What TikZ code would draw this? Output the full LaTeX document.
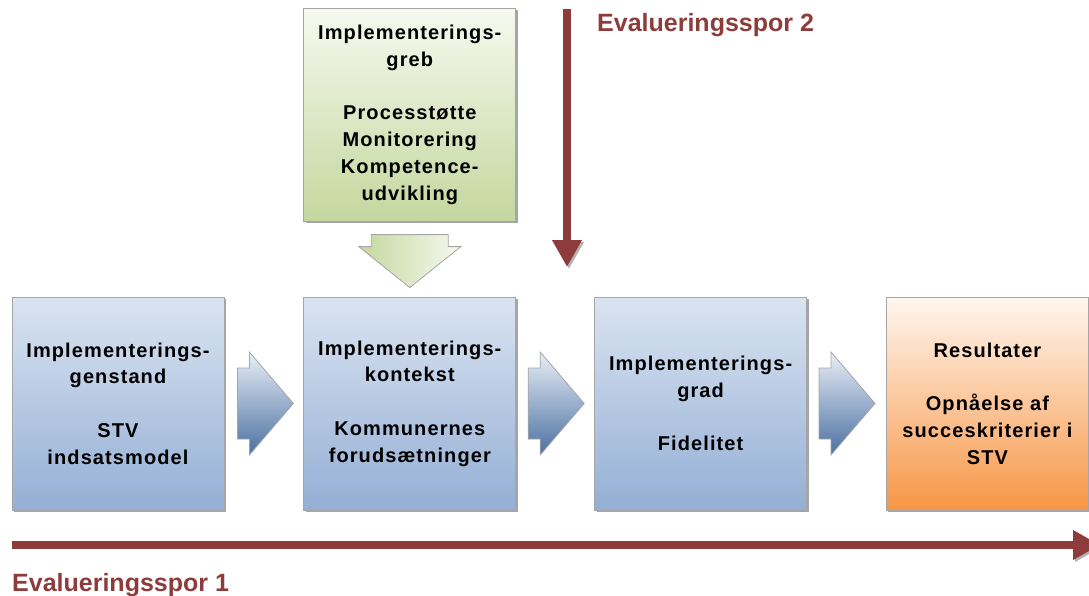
\documentclass[tikz,border=0pt]{standalone}
\usepackage{fontspec}
\setmainfont{Liberation Sans}
\newfontfamily\feltfont{Liberation Sans}[LetterSpace=5.5]
\usetikzlibrary{arrows.meta,shadows,calc,positioning}
\definecolor{sporroed}{HTML}{8E3B3B}
\definecolor{feltkant}{HTML}{A6A6A6}
\definecolor{blaatop}{HTML}{DAE4F1}
\definecolor{blaabund}{HTML}{94AFD5}
\definecolor{groentop}{HTML}{F6F9EF}
\definecolor{groenbund}{HTML}{C4D79E}
\definecolor{orangetop}{HTML}{FFF6EF}
\definecolor{orangebund}{HTML}{F79646}
\definecolor{pilbund}{HTML}{4B70A2}
\tikzset{
    felt/.style={draw=feltkant, line width=0.8pt, minimum width=212pt, minimum height=213pt,
      align=center, inner sep=0pt, font=\feltfont\bfseries\fontsize{20}{26.75}\selectfont,
      drop shadow={shadow xshift=2pt, shadow yshift=-2pt, opacity=.35, fill=black}},
    blaa/.style={felt, top color=blaatop, bottom color=blaabund},
    groen/.style={felt, top color=groentop, bottom color=groenbund},
    orange/.style={felt, top color=orangetop, bottom color=orangebund},
    spor/.style={draw=sporroed, line width=8pt, -{Triangle[width=28pt,length=27pt]},
      preaction={draw=black, opacity=.3, transform canvas={shift={(2pt,-2pt)}}}},
    sportekst/.style={text=sporroed, inner sep=0pt, font=\bfseries\fontsize{25}{30}\selectfont},
    hoejre/.pic={
      \path[draw=feltkant, line width=0.8pt, top color=blaatop!60!white, bottom color=pilbund]
        (0,-35.5) -- (12,-35.5) -- (12,-51.5) -- (56,0) -- (12,51.5) -- (12,35.5) -- (0,35.5) -- cycle;
    },
    ned/.pic={
      \path[draw=feltkant, line width=0.8pt, left color=groenbund, right color=groentop]
        (-38.5,0) -- (38.5,0) -- (38.5,12) -- (51,12) -- (0,53) -- (-51,12) -- (-38.5,12) -- cycle;
    },
  }
\begin{document}
\begin{tikzpicture}[x=1pt,y=-1pt]
  \useasboundingbox (0,0) rectangle (1089,596);
  % felterne
  \node[blaa] (genstand) at (118,403.5) {Implementerings-\\genstand\\[26.75pt]STV\\indsatsmodel};
  \node[blaa, right=79pt of genstand] (kontekst) {Implementerings-\\kontekst\\[26.75pt]Kommunernes\\forudsætninger};
  \node[blaa, right=78pt of kontekst] (grad) {Implementerings-\\grad\\[26.75pt]Fidelitet};
  \node[orange, minimum width=202pt, right=79pt of grad] (resultater) {Resultater\\[26.75pt]Opnåelse af\\succeskriterier i\\STV};
  \node[groen, above=75pt of kontekst] (greb) {Implementerings-\\greb\\[26.75pt]Processtøtte\\Monitorering\\Kompetence-\\udvikling};

  % pilene mellem felterne
  \pic at ($(genstand.east)+(13,0)$) {hoejre};
  \pic at ($(kontekst.east)+(12,0)$) {hoejre};
  \pic at ($(grad.east)+(12,0)$) {hoejre};
  \pic at ($(greb.south)+(0,13)$) {ned};

  % evalueringssporene
  \coordinate (s2start) at (567,9);
  \coordinate (s2slut) at (567,267);
  \coordinate (s1start) at (12,545);
  \coordinate (s1slut) at (1100,545);
  \draw[spor] (s2start) -- (s2slut);
  \draw[spor] (s1start) -- (s1slut);
  \node[sportekst, anchor=base west] (spor2) at (597,32) {Evalueringsspor 2};
  \node[sportekst, anchor=base west] (spor1) at (12,591) {Evalueringsspor 1};
\end{tikzpicture}
\end{document}
